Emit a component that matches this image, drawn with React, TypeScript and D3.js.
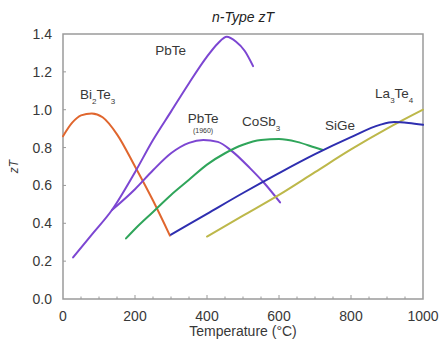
import { useEffect, useRef } from "react";
import * as d3 from "d3";

interface Pt {
  t: number;
  zt: number;
}

const bi2te3: Pt[] = [
  { t: 0, zt: 0.86 }, { t: 25, zt: 0.93 }, { t: 50, zt: 0.97 }, { t: 80, zt: 0.98 },
  { t: 110, zt: 0.96 }, { t: 150, zt: 0.87 }, { t: 200, zt: 0.7 }, { t: 250, zt: 0.52 },
  { t: 297, zt: 0.335 },
];
const pbte: Pt[] = [
  { t: 28, zt: 0.22 }, { t: 80, zt: 0.34 }, { t: 136, zt: 0.47 }, { t: 200, zt: 0.67 },
  { t: 250, zt: 0.84 }, { t: 300, zt: 0.99 }, { t: 350, zt: 1.14 }, { t: 400, zt: 1.28 },
  { t: 430, zt: 1.35 }, { t: 455, zt: 1.385 }, { t: 480, zt: 1.36 }, { t: 505, zt: 1.31 },
  { t: 528, zt: 1.23 },
];
const pbte1960: Pt[] = [
  { t: 136, zt: 0.47 }, { t: 200, zt: 0.58 }, { t: 250, zt: 0.68 }, { t: 300, zt: 0.77 },
  { t: 350, zt: 0.825 }, { t: 390, zt: 0.84 }, { t: 430, zt: 0.83 }, { t: 470, zt: 0.78 },
  { t: 520, zt: 0.69 }, { t: 560, zt: 0.61 }, { t: 603, zt: 0.51 },
];
const cosb3: Pt[] = [
  { t: 175, zt: 0.32 }, { t: 200, zt: 0.37 }, { t: 250, zt: 0.46 }, { t: 300, zt: 0.55 },
  { t: 350, zt: 0.63 }, { t: 400, zt: 0.71 }, { t: 450, zt: 0.77 }, { t: 500, zt: 0.815 },
  { t: 550, zt: 0.84 }, { t: 600, zt: 0.845 }, { t: 650, zt: 0.83 }, { t: 700, zt: 0.8 },
  { t: 722, zt: 0.787 },
];
const sige: Pt[] = [
  { t: 300, zt: 0.34 }, { t: 400, zt: 0.45 }, { t: 500, zt: 0.56 }, { t: 600, zt: 0.665 },
  { t: 700, zt: 0.765 }, { t: 800, zt: 0.855 }, { t: 880, zt: 0.92 }, { t: 920, zt: 0.935 },
  { t: 960, zt: 0.93 }, { t: 1000, zt: 0.92 },
];
const la3te4: Pt[] = [
  { t: 400, zt: 0.33 }, { t: 500, zt: 0.44 }, { t: 600, zt: 0.55 }, { t: 700, zt: 0.67 },
  { t: 800, zt: 0.79 }, { t: 900, zt: 0.9 }, { t: 1000, zt: 1.0 },
];

const seriesList = [
  { name: "Bi2Te3", points: bi2te3, color: "#e0662e" },
  { name: "PbTe", points: pbte, color: "#7c46d2" },
  { name: "PbTe (1960)", points: pbte1960, color: "#7c46d2" },
  { name: "CoSb3", points: cosb3, color: "#2fa55a" },
  { name: "La3Te4", points: la3te4, color: "#bdb84a" },
  { name: "SiGe", points: sige, color: "#2e2eb0" },
];

// label text pieces: [text, isSubscript], anchored in data coords
const seriesLabels: { t: number; zt: number; parts: [string, boolean][]; anchor: string }[] = [
  { t: 47, zt: 1.055, parts: [["Bi", false], ["2", true], ["Te", false], ["3", true]], anchor: "start" },
  { t: 256, zt: 1.289, parts: [["PbTe", false]], anchor: "start" },
  { t: 389, zt: 0.93, parts: [["PbTe", false]], anchor: "middle" },
  { t: 497, zt: 0.914, parts: [["CoSb", false], ["3", true]], anchor: "start" },
  { t: 728, zt: 0.893, parts: [["SiGe", false]], anchor: "start" },
  { t: 867, zt: 1.062, parts: [["La", false], ["3", true], ["Te", false], ["4", true]], anchor: "start" },
];

const xTicks = [0, 200, 400, 600, 800, 1000];
const yTicks = [0, 0.2, 0.4, 0.6, 0.8, 1.0, 1.2, 1.4];

const W = 441;
const H = 344;
const MARGIN = { top: 34, right: 18, bottom: 45, left: 63 };
const FONT = "Liberation Sans, Arial, sans-serif";
const TEXT = "#383838";

export default function App() {
  const svgRef = useRef<SVGSVGElement>(null);

  useEffect(() => {
    if (!svgRef.current) return;
    const svg = d3.select(svgRef.current);
    svg.selectAll("*").remove();

    const innerW = W - MARGIN.left - MARGIN.right;
    const innerH = H - MARGIN.top - MARGIN.bottom;

    const x = d3.scaleLinear().domain([0, 1000]).range([0, innerW]);
    const y = d3.scaleLinear().domain([0, 1.4]).range([innerH, 0]);

    svg.append("rect").attr("width", W).attr("height", H).attr("fill", "#fff");

    const g = svg
      .append("g")
      .attr("transform", `translate(${MARGIN.left},${MARGIN.top})`);

    // frame
    g.append("rect")
      .attr("width", innerW)
      .attr("height", innerH)
      .attr("fill", "none")
      .attr("stroke", "#9a9a9a")
      .attr("stroke-width", 1.5);

    // minor x ticks every 50, a bit longer at the labelled ones
    g.append("g")
      .selectAll("line")
      .data(d3.range(50, 1000, 50))
      .join("line")
      .attr("x1", (d) => x(d))
      .attr("x2", (d) => x(d))
      .attr("y1", innerH)
      .attr("y2", (d) => innerH - (d % 200 === 0 ? 4 : 2.5))
      .attr("stroke", "#9a9a9a")
      .attr("stroke-width", 1);

    g.append("g")
      .selectAll("line")
      .data(yTicks.slice(1, -1))
      .join("line")
      .attr("x1", 0)
      .attr("x2", 3)
      .attr("y1", (d) => y(d))
      .attr("y2", (d) => y(d))
      .attr("stroke", "#9a9a9a")
      .attr("stroke-width", 1);

    // tick labels
    g.append("g")
      .selectAll("text")
      .data(xTicks)
      .join("text")
      .attr("x", (d) => x(d))
      .attr("y", innerH + 22)
      .attr("text-anchor", "middle")
      .attr("font-family", FONT)
      .attr("font-size", 14)
      .attr("fill", TEXT)
      .text((d) => String(d));

    g.append("g")
      .selectAll("text")
      .data(yTicks)
      .join("text")
      .attr("x", -11)
      .attr("y", (d) => y(d) + 5)
      .attr("text-anchor", "end")
      .attr("font-family", FONT)
      .attr("font-size", 14)
      .attr("fill", TEXT)
      .text((d) => d.toFixed(1));

    // lines
    const line = d3
      .line<Pt>()
      .x((d) => x(d.t))
      .y((d) => y(d.zt))
      .curve(d3.curveMonotoneX);

    seriesList.forEach((s) => {
      g.append("path")
        .datum(s.points)
        .attr("d", line)
        .attr("fill", "none")
        .attr("stroke", s.color)
        .attr("stroke-width", 2)
        .attr("stroke-linecap", "round");
    });

    // series labels with subscripts
    seriesLabels.forEach((l) => {
      const t = g
        .append("text")
        .attr("x", x(l.t))
        .attr("y", y(l.zt))
        .attr("text-anchor", l.anchor)
        .attr("font-family", FONT)
        .attr("font-size", 13.5)
        .attr("fill", TEXT);
      let down = false;
      l.parts.forEach(([str, sub]) => {
        const dy = sub ? (down ? 0 : 5) : down ? -5 : 0;
        down = sub;
        t.append("tspan").attr("dy", dy).attr("font-size", sub ? 8 : 13.5).text(str);
      });
    });

    g.append("text")
      .attr("x", x(389))
      .attr("y", y(0.877))
      .attr("text-anchor", "middle")
      .attr("font-family", FONT)
      .attr("font-size", 7)
      .attr("fill", TEXT)
      .text("(1960)");

    // title
    svg
      .append("text")
      .attr("x", MARGIN.left + innerW / 2)
      .attr("y", 22)
      .attr("text-anchor", "middle")
      .attr("font-family", FONT)
      .attr("font-style", "italic")
      .attr("font-size", 14)
      .attr("fill", "#222")
      .text("n-Type zT");

    // axis titles
    svg
      .append("text")
      .attr("x", MARGIN.left + innerW / 2)
      .attr("y", 336)
      .attr("text-anchor", "middle")
      .attr("font-family", FONT)
      .attr("font-size", 14)
      .attr("fill", TEXT)
      .text("Temperature (°C)");

    svg
      .append("text")
      .attr("transform", `translate(18,${MARGIN.top + innerH / 2}) rotate(-90)`)
      .attr("text-anchor", "middle")
      .attr("font-family", FONT)
      .attr("font-style", "italic")
      .attr("font-size", 12)
      .attr("fill", TEXT)
      .text("zT");
  }, []);

  return (
    <div style={{ position: "absolute", left: 0, top: 0 }}>
      <svg ref={svgRef} width={W} height={H} style={{ display: "block" }} />
    </div>
  );
}
